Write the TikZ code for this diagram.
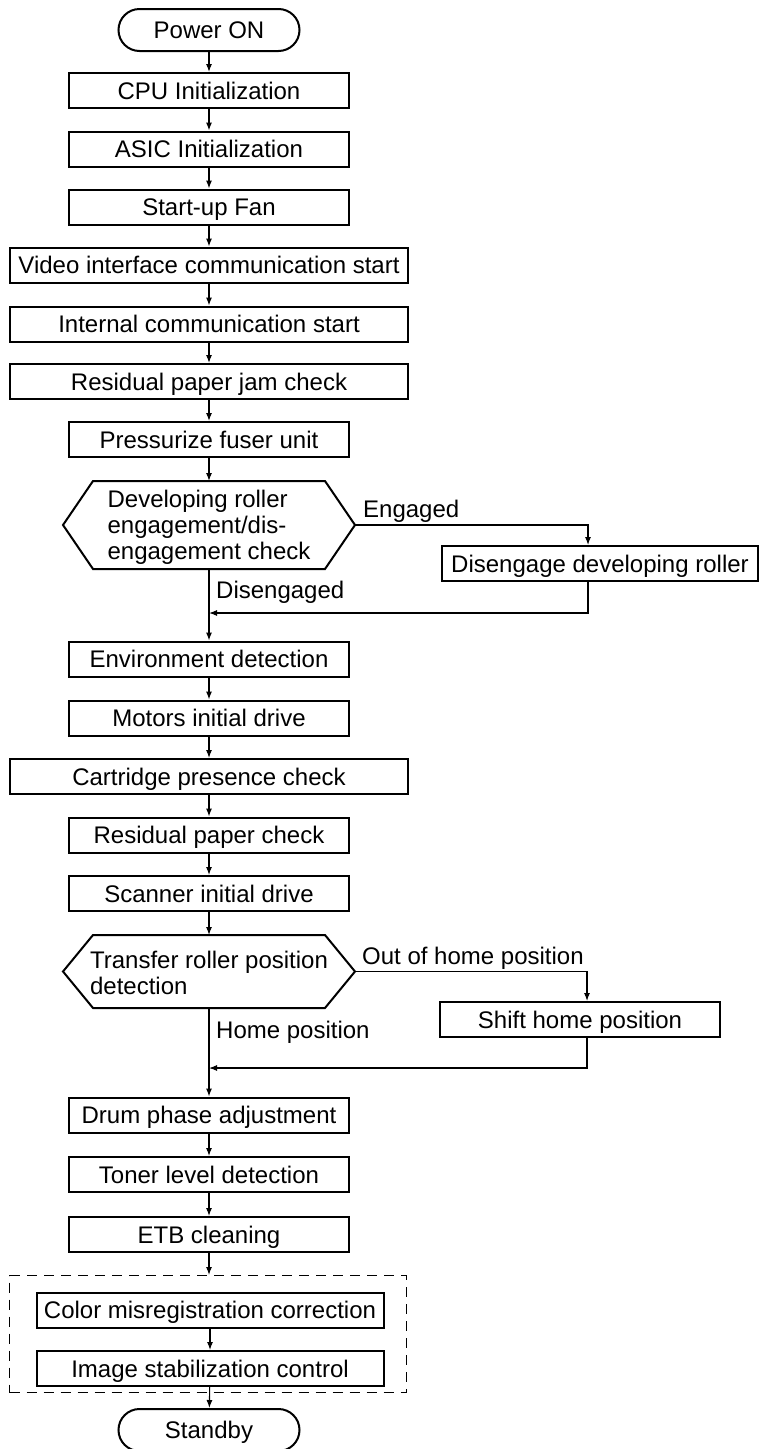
\documentclass[tikz,border=0pt]{standalone}
\usepackage{fontspec}
\setmainfont{Liberation Sans}
\usetikzlibrary{shapes.misc,arrows.meta}

\begin{document}
\begin{tikzpicture}[x=1pt,y=-1pt,font=\fontsize{24}{26}\selectfont,
	box/.style={draw,line width=2pt,minimum width=280pt,minimum height=35pt,inner sep=0pt,text height=17.2pt,text depth=0pt},
	widebox/.style={box,minimum width=398pt},
	term/.style={draw,line width=2pt,rounded rectangle,minimum width=181pt,minimum height=42pt,inner sep=0pt,text height=17.2pt,text depth=0pt},
	hexline/.style={line width=2pt,line join=miter},
	hextext/.style={align=left,inner sep=0pt},
	arr/.style={line width=1.1pt,-{Latex[length=8pt,width=6pt]}},
	lbl/.style={anchor=base west,inner sep=0pt}]
	\useasboundingbox (0,0) rectangle (758,1449);

	\node[term] (power) at (209,30) {Power ON};
	\node[box] (cpu) at (209,90.5) {CPU Initialization};
	\node[box] (asic) at (209,149) {ASIC Initialization};
	\node[box] (fan) at (209,207) {Start-up Fan};
	\node[widebox] (video) at (209,265) {Video interface communication start};
	\node[widebox] (intcom) at (209,324) {Internal communication start};
	\node[widebox] (jam) at (209,381.5) {Residual paper jam check};
	\node[box] (fuser) at (209,439.5) {Pressurize fuser unit};

	% developing roller check
	\coordinate (D1) at (93,481);
	\coordinate (D2) at (325,481);
	\coordinate (D3) at (355,525);
	\coordinate (D4) at (325,569);
	\coordinate (D5) at (93,569);
	\coordinate (D6) at (63,525);
	\coordinate (Dtop) at (209,481);
	\coordinate (Dbot) at (209,569);
	\draw[hexline] (D1)--(D2)--(D3)--(D4)--(D5)--(D6)--cycle;
	\node[hextext] (devchk) at (209,527.5) {Developing roller\\engagement/dis-\\engagement check};
	\node[box,minimum width=316pt] (diseng) at (600,563.5) {Disengage developing roller};
	\coordinate (bendD) at (588,525);
	\coordinate (joinD) at (209,613);
	\node[lbl] (engaged) at (363,517) {Engaged};
	\node[lbl] (disengaged) at (216,598) {Disengaged};

	\node[box] (env) at (209,659) {Environment detection};
	\node[box] (motors) at (209,718) {Motors initial drive};
	\node[widebox] (cart) at (209,776.5) {Cartridge presence check};
	\node[box] (paper) at (209,835) {Residual paper check};
	\node[box] (scan) at (209,893.5) {Scanner initial drive};

	% transfer roller check
	\coordinate (R1) at (93,935);
	\coordinate (R2) at (325,935);
	\coordinate (R3) at (355,971.5);
	\coordinate (R4) at (325,1008);
	\coordinate (R5) at (93,1008);
	\coordinate (R6) at (63,971.5);
	\coordinate (Rtop) at (209,935);
	\coordinate (Rbot) at (209,1008);
	\draw[hexline] (R1)--(R2)--(R3)--(R4)--(R5)--(R6)--cycle;
	\node[hextext] (trchk) at (209,972.5) {Transfer roller position\\detection};
	\node[box] (shift) at (580,1019.5) {Shift home position};
	\coordinate (bendR) at (587,971.5);
	\coordinate (joinR) at (209,1068);
	\node[lbl] (outhome) at (362,964) {Out of home position};
	\node[lbl] (home) at (216,1038) {Home position};

	\node[box] (drum) at (209,1115) {Drum phase adjustment};
	\node[box] (toner) at (209,1174.5) {Toner level detection};
	\node[box] (etb) at (209,1234.5) {ETB cleaning};
	\node[draw,dash pattern=on 10pt off 7pt,line width=1pt,minimum width=397pt,minimum height=117pt] (group) at (208,1334) {};
	\node[box,minimum width=347pt] (color) at (210,1310) {Color misregistration correction};
	\node[box,minimum width=347pt] (image) at (210,1368.5) {Image stabilization control};
	\node[term] (standby) at (209,1430) {Standby};

	\draw[arr] (power)--(cpu);
	\draw[arr] (cpu)--(asic);
	\draw[arr] (asic)--(fan);
	\draw[arr] (fan)--(video);
	\draw[arr] (video)--(intcom);
	\draw[arr] (intcom)--(jam);
	\draw[arr] (jam)--(fuser);
	\draw[arr] (fuser)--(Dtop);
	\draw[arr] (D3)--(bendD)--(bendD |- diseng.north);
	\draw[arr] (bendD |- diseng.south)|-(joinD);
	\draw[arr] (Dbot)--(env);
	\draw[arr] (env)--(motors);
	\draw[arr] (motors)--(cart);
	\draw[arr] (cart)--(paper);
	\draw[arr] (paper)--(scan);
	\draw[arr] (scan)--(Rtop);
	\draw[arr] (R3)--(bendR)--(bendR |- shift.north);
	\draw[arr] (bendR |- shift.south)|-(joinR);
	\draw[arr] (Rbot)--(drum);
	\draw[arr] (drum)--(toner);
	\draw[arr] (toner)--(etb);
	\draw[arr] (etb)--(etb |- group.north);
	\draw[arr] (color)--(image);
	\draw[arr] (image)--(standby);
\end{tikzpicture}
\end{document}
